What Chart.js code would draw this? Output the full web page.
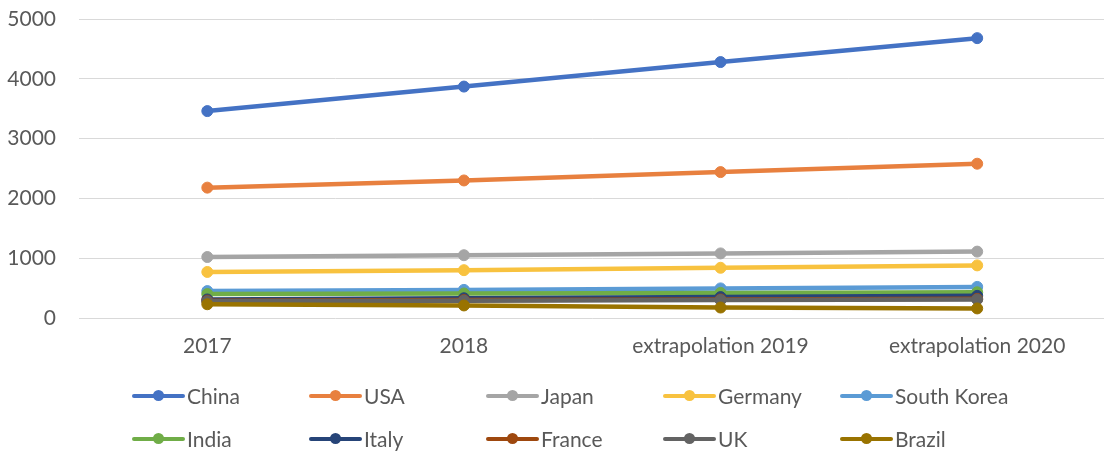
<!DOCTYPE html>
<html>
<head>
<meta charset="utf-8">
<script src="https://cdn.jsdelivr.net/npm/chart.js@4"></script>
<style>
  html, body { margin: 0; padding: 0; background: #fff; overflow: hidden; }
  #wrap { position: relative; width: 1104px; height: 456px; overflow: hidden; }
  #chart { position: absolute; left: 0; top: 0; }
  .legend-item { position: absolute; display: flex; align-items: center; font: 21px Lato, sans-serif; color: #595959; white-space: nowrap; }
  .swatch { position: relative; width: 53px; height: 4px; margin-right: 2px; border-radius: 2px; }
  .swatch span { position: absolute; left: 21px; top: -3.5px; width: 11px; height: 11px; border-radius: 50%; }
</style>
</head>
<body>
<div id="wrap">
  <canvas id="chart" width="1112" height="456"></canvas>
  <div id="legend"></div>
</div>
<script>
// categories and series
const years = ['2017', '2018', 'extrapolation 2019', 'extrapolation 2020'];
const countries = ['China', 'USA', 'Japan', 'Germany', 'South Korea', 'India', 'Italy', 'France', 'UK', 'Brazil'];
const china      = [3460, 3870, 4280, 4680];
const usa        = [2180, 2300, 2440, 2580];
const japan      = [1020, 1050, 1080, 1110];
const germany    = [770, 800, 840, 880];
const southKorea = [450, 470, 495, 520];
const india      = [400, 410, 420, 430];
const italy      = [310, 330, 350, 370];
const france     = [290, 300, 310, 320];
const uk         = [280, 290, 300, 310];
const brazil     = [230, 210, 175, 160];
const yTicks     = [0, 1000, 2000, 3000, 4000, 5000];

const seriesValues = [china, usa, japan, germany, southKorea, india, italy, france, uk, brazil];
const colors = ['#4472C4', '#E8803F', '#A5A5A5', '#F8C23F', '#5B9BD5', '#70AD47', '#264478', '#9E480E', '#636363', '#997300'];

const datasets = countries.map((name, i) => ({
    label: name,
    data: seriesValues[i],
    borderColor: colors[i],
    backgroundColor: colors[i],
    pointBackgroundColor: colors[i],
    pointBorderColor: colors[i],
    borderWidth: 4.5,
    pointRadius: 5.5,
    pointBorderWidth: 1,
    tension: 0,
    clip: false,
    order: countries.length - 1 - i   // later series painted on top, like the original
}));

new Chart(document.getElementById('chart'), {
    type: 'line',
    data: { labels: years, datasets: datasets },
    options: {
        responsive: false,
        animation: false,
        layout: { padding: { left: 0, right: 1, top: 19, bottom: 98 } },
        plugins: { legend: { display: false }, tooltip: { enabled: false } },
        scales: {
            x: {
                offset: true,
                grid: { display: false, drawTicks: false },
                border: { display: false },
                ticks: { color: '#595959', font: { family: 'Lato', size: 21 }, padding: 16, maxRotation: 0 },
                afterFit: s => { s.height = 40; }
            },
            y: {
                min: 0,
                max: 5000,
                afterBuildTicks: s => { s.ticks = yTicks.map(v => ({ value: v })); },
                grid: { color: '#D9D9D9', lineWidth: 1, drawTicks: false },
                border: { display: false },
                ticks: { color: '#595959', font: { family: 'Lato', size: 21 }, padding: 23, callback: v => String(v) },
                afterFit: s => {
                    s.width = 79;
                    // tick padding would otherwise push the plot top down
                    s.paddingTop = 0;
                    s.paddingBottom = 0;
                }
            }
        }
    }
});

// legend: two rows of five, fixed columns
const legend = document.getElementById('legend');
countries.forEach((name, i) => {
    const item = document.createElement('div');
    item.className = 'legend-item';
    item.style.left = (132 + (i % 5) * 177) + 'px';
    item.style.top = (i < 5 ? 383 : 426) + 'px';
    item.innerHTML = `<div class="swatch" style="background:${colors[i]}"><span style="background:${colors[i]}"></span></div>${name}`;
    legend.appendChild(item);
});
</script>
</body>
</html>
